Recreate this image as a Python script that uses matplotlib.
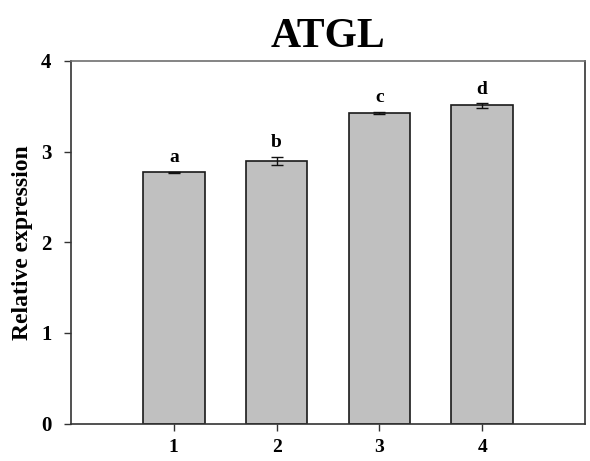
import matplotlib.pyplot as plt
import numpy as np

groups = ["1", "2", "3", "4"]
means = [2.77, 2.90, 3.43, 3.51]
errs = [0.01, 0.045, 0.01, 0.025]
letters = ["a", "b", "c", "d"]

plt.rcParams['font.family'] = ['Liberation Serif', 'DejaVu Serif']
plt.rcParams['font.weight'] = 'bold'

fig = plt.figure(figsize=(5.9, 4.61), dpi=100)
ax = fig.add_axes([0.1203, 0.0813, 0.8712, 0.7864])

x = np.arange(1, len(groups) + 1)
ax.bar(x, means, width=0.6, color='#c0c0c0', edgecolor='#1a1a1a', linewidth=1.2, zorder=2)
ax.errorbar(x, means, yerr=errs, fmt='none', ecolor='#111111', elinewidth=1.0,
            capsize=4, capthick=1.0, zorder=3)

# significance letters just above each error bar
for xi, m, e, lab in zip(x, means, errs, letters):
    ax.annotate(lab, (xi, m + e), xytext=(0, 4), textcoords='offset points',
                ha='center', va='bottom', fontsize=14, fontweight='bold')

ax.set_xlim(0, 5)
ax.set_ylim(0, 4)
ax.set_xticks(x)
ax.set_xticklabels(groups)
ax.set_yticks([0, 1, 2, 3, 4])
ax.tick_params(axis='x', direction='out', length=5, width=1, pad=6, labelsize=14, color='#333333')
ax.tick_params(axis='y', direction='out', length=5, width=1, pad=9, labelsize=15, color='#333333')
for lbl in ax.get_xticklabels() + ax.get_yticklabels():
    lbl.set_fontweight('bold')

for side in ['left', 'bottom', 'right']:
    ax.spines[side].set_color('#333333')
    ax.spines[side].set_linewidth(1.2)
ax.spines['top'].set_color('#707070')
ax.spines['top'].set_linewidth(1.2)

ax.set_ylabel('Relative expression', fontsize=17, fontweight='bold', labelpad=6)
ax.set_title('ATGL', fontsize=30, fontweight='bold', pad=10)

fig.savefig('out.png', dpi=100)
